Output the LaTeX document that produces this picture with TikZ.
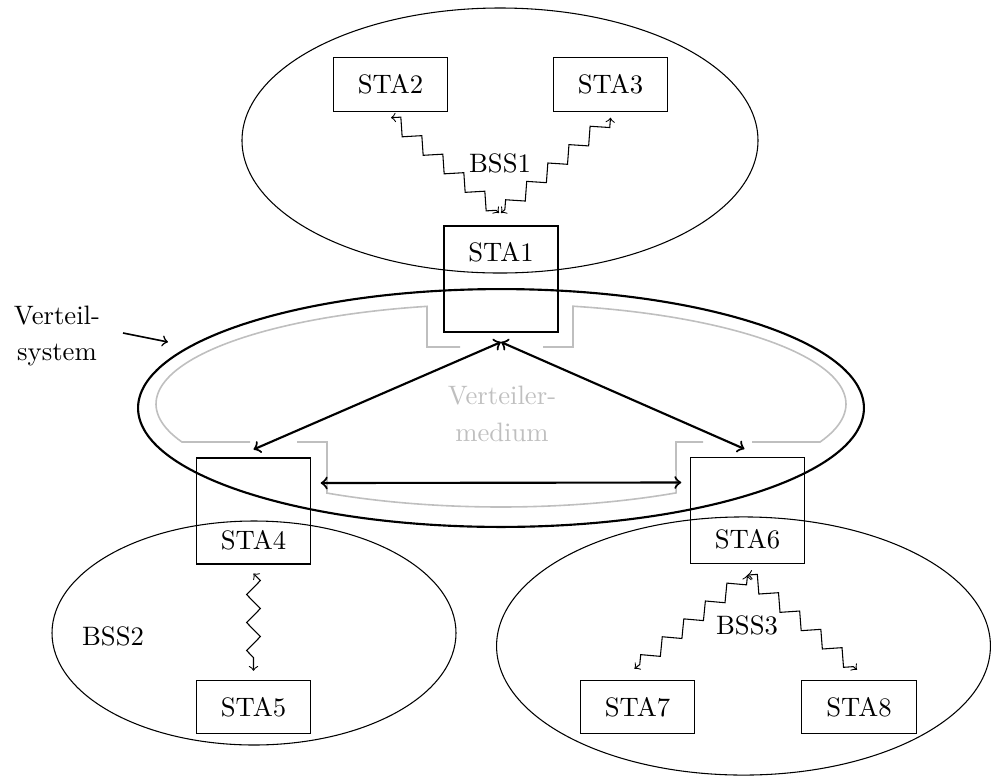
\documentclass[tikz,border=0pt]{standalone}
\usetikzlibrary{decorations.pathmorphing,calc}
\begin{document}
\begin{tikzpicture}[x=0.375pt,y=-0.375pt,
  stabox/.style={draw, minimum width=43pt, minimum height=20pt, inner sep=0pt},
  tallbox/.style={draw, minimum width=42.5pt, minimum height=39.75pt, inner sep=0pt},
  radio/.style={<->, decorate, decoration={zigzag, segment length=10.5pt, amplitude=2.6pt}},
  link/.style={<->, thick},
  medium/.style={draw=black!25, semithick},
  bss/.style={draw},
]
\useasboundingbox (0,0) rectangle (991,780);

% basic service sets and the distribution system
\draw[bss] (500,140.5) ellipse [x radius=96.75pt, y radius=49.69pt];
\draw[bss] (254,633) ellipse [x radius=75.75pt, y radius=42pt];
\draw[bss] (743.5,646) ellipse [x radius=92.6pt, y radius=48.4pt];
\draw[thick] (501,408) ellipse [x radius=136.1pt, y radius=44.6pt];

% distribution medium (grey ring with openings at the access points)
\draw[medium] (460,347) -- (427,347)
  -- plot[domain=102.39:202.33, samples=60] ({501+345*cos(\x)},{404-100*sin(\x)})
  -- (250,442);
\draw[medium] (543,347) -- (573,347)
  -- plot[domain=77.95:-22.33, samples=60] ({501+345*cos(\x)},{404-100*sin(\x)})
  -- (752,442);
\draw[medium] (297,442) -- (327,442)
  -- plot[domain=239.7:300.5, samples=40] ({501+345*cos(\x)},{405-102*sin(\x)})
  -- (676,442) -- (703,442);
\node[text=black!25, align=center] (medlabel) at (502,414) {Verteiler-\\[1.6pt]medium};

% stations
\node[stabox] (sta2) at (390.5,84.5) {STA2};
\node[stabox] (sta3) at (610.5,84.5) {STA3};
\node[tallbox, thick] (sta1) at (501,279) {};
\node (sta1t) at (501,252) {STA1};
\node[tallbox] (sta4) at (253.5,511) {};
\node (sta4t) at (253.5,540) {STA4};
\node[tallbox] (sta6) at (747.5,510.5) {};
\node (sta6t) at (747.5,539) {STA6};
\node[stabox] (sta5) at (253.5,707) {STA5};
\node[stabox] (sta7) at (637.5,707) {STA7};
\node[stabox] (sta8) at (859,707) {STA8};

% set labels
\node (bss1) at (500,163) {BSS1};
\node (bss2) at (113,636) {BSS2};
\node (bss3) at (747,625) {BSS3};

% wireless links
\draw[radio] ($(sta2.south)+(0.5,6)$) -- ($(sta1.north)+(-2,-12)$);
\draw[radio] ($(sta3.south)+(0,6)$) -- ($(sta1.north)+(0,-12)$);
\draw[radio] ($(sta4.south)+(0,9)$) -- ($(sta5.north)+(0,-9)$);
\draw[radio] ($(sta6.south)+(0,11)$) -- ($(sta7.north)+(-3,-11)$);
\draw[radio] ($(sta6.south)+(0,11)$) -- ($(sta8.north)+(-2,-10)$);

% links through the distribution system
\draw[link] ($(sta1.south)+(0,9)$) -- ($(sta4.north)+(0,-8)$);
\draw[link] ($(sta1.south)+(0,9)$) -- ($(sta6.north)+(-3,-8)$);
\draw[link] ($(sta4.east)+(10,-28)$) -- ($(sta6.west)+(-9,-28)$);

% label of the distribution system
\node[align=center] (vsys) at (57,336) {Verteil-\\[1.6pt]system};
\coordinate (vsa) at (123,333);
\coordinate (vsb) at (168,342);
\draw[->, semithick] (vsa) -- (vsb);
\end{tikzpicture}
\end{document}
